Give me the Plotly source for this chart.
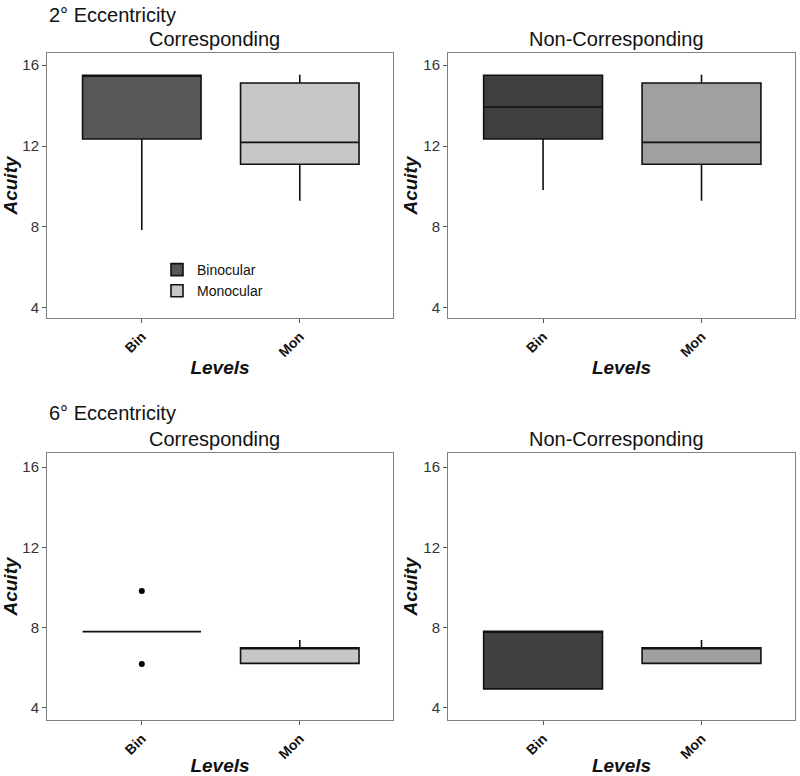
import plotly.graph_objects as go

# ---- data ----
levels = ["Bin", "Mon"]
legend_names = ["Binocular", "Monocular"]
panels = ["2° Corresponding", "2° Non-Corresponding", "6° Corresponding", "6° Non-Corresponding"]

# per panel: [Bin, Mon] stats
q1 = [[12.35, 11.1], [12.35, 11.1], [7.8, 6.22], [4.95, 6.22]]
med = [[15.5, 12.18], [13.93, 12.18], [7.8, 7.0], [7.82, 7.0]]
q3 = [[15.5, 15.12], [15.5, 15.12], [7.8, 7.0], [7.82, 7.0]]
lo = [[7.85, 9.3], [9.83, 9.3], [7.8, 6.22], [4.95, 6.22]]
hi = [[15.5, 15.52], [15.5, 15.52], [7.8, 7.38], [7.82, 7.38]]
outlier_x = ["Bin", "Bin"]
outlier_y = [9.82, 6.19]   # panel 3 outliers

fills = [["#575757", "#c6c6c6"], ["#3f3f3f", "#a0a0a0"],
         ["#575757", "#c6c6c6"], ["#404040", "#a0a0a0"]]

yticks = [4, 8, 12, 16]

FONT = "Liberation Sans, Arial, sans-serif"

xdoms = [[47/800, 393/800], [448/800, 795/800], [47/800, 393/800], [448/800, 795/800]]
ydoms = [[1-318/776, 1-53/776], [1-318/776, 1-53/776],
         [1-720/776, 1-453/776], [1-720/776, 1-453/776]]
yranges = [[3.5, 16.6], [3.5, 16.6], [3.4, 16.7], [3.4, 16.7]]

fig = go.Figure()
for p in range(4):
    xa = "x" if p == 0 else f"x{p+1}"
    ya = "y" if p == 0 else f"y{p+1}"
    for i, lev in enumerate(levels):
        fig.add_trace(go.Box(
            x=[lev], q1=[q1[p][i]], median=[med[p][i]], q3=[q3[p][i]],
            lowerfence=[lo[p][i]], upperfence=[hi[p][i]],
            name=legend_names[i], legendgroup=legend_names[i],
            showlegend=(p == 0), fillcolor=fills[p][i],
            line=dict(color="#111111", width=1.6), whiskerwidth=0,
            width=0.75, boxpoints=False, xaxis=xa, yaxis=ya,
        ))
    if p == 2:
        fig.add_trace(go.Scatter(
            x=outlier_x, y=outlier_y, mode="markers",
            marker=dict(color="black", size=6), showlegend=False,
            xaxis=xa, yaxis=ya,
        ))

layout = dict(
    width=800, height=776,
    margin=dict(l=0, r=0, t=0, b=0, autoexpand=False),
    paper_bgcolor="white", plot_bgcolor="white",
    boxmode="overlay",
    font=dict(family=FONT, color="#222222"),
    legend=dict(x=157/800, y=1-254/776, xanchor="left", yanchor="top",
                bgcolor="rgba(0,0,0,0)", font=dict(size=14, color="#111111"),
                tracegroupgap=0, itemwidth=30),
)
for p in range(4):
    xk = "xaxis" if p == 0 else f"xaxis{p+1}"
    yk = "yaxis" if p == 0 else f"yaxis{p+1}"
    ya = "y" if p == 0 else f"y{p+1}"
    xa = "x" if p == 0 else f"x{p+1}"
    layout[xk] = dict(
        domain=xdoms[p], anchor=ya, type="category", categoryorder="array",
        categoryarray=levels, range=[-0.6, 1.59], tickangle=-45,
        tickfont=dict(size=14, color="#111111", family=FONT, weight="bold"),
        ticks="outside", ticklen=4, tickcolor="#555555", automargin=False,
        showline=True, mirror=True, linecolor="#808080", linewidth=1,
        showgrid=False, zeroline=False,
        title=dict(text="<b><i>Levels</i></b>", font=dict(size=19, color="#111111"), standoff=1),
    )
    layout[yk] = dict(
        domain=ydoms[p], anchor=xa, range=yranges[p], tickvals=yticks,
        tickfont=dict(size=15, color="#333333"),
        ticks="outside", ticklen=4, tickcolor="#555555", automargin=False,
        showline=True, mirror=True, linecolor="#808080", linewidth=1,
        showgrid=False, zeroline=False,
        title=dict(text="<b><i>Acuity</i></b>", font=dict(size=19, color="#111111"), standoff=0),
    )
fig.update_layout(**layout)

annots = [
    ("2° Eccentricity", 47, 15, "left"),
    ("Corresponding", 214, 39, "center"),
    ("Non-Corresponding", 616, 39, "center"),
    ("6° Eccentricity", 47, 413, "left"),
    ("Corresponding", 214, 439, "center"),
    ("Non-Corresponding", 616, 439, "center"),
]
for txt, px, py, anc in annots:
    fig.add_annotation(text=txt, x=px/800, y=1-py/776, xref="paper", yref="paper",
                       xanchor=anc, yanchor="middle", showarrow=False,
                       font=dict(size=20, color="#111111", family=FONT))

fig.write_html("out.html", config={"displayModeBar": False},
               post_script="document.body.style.margin='0';document.body.style.overflow='hidden';")
